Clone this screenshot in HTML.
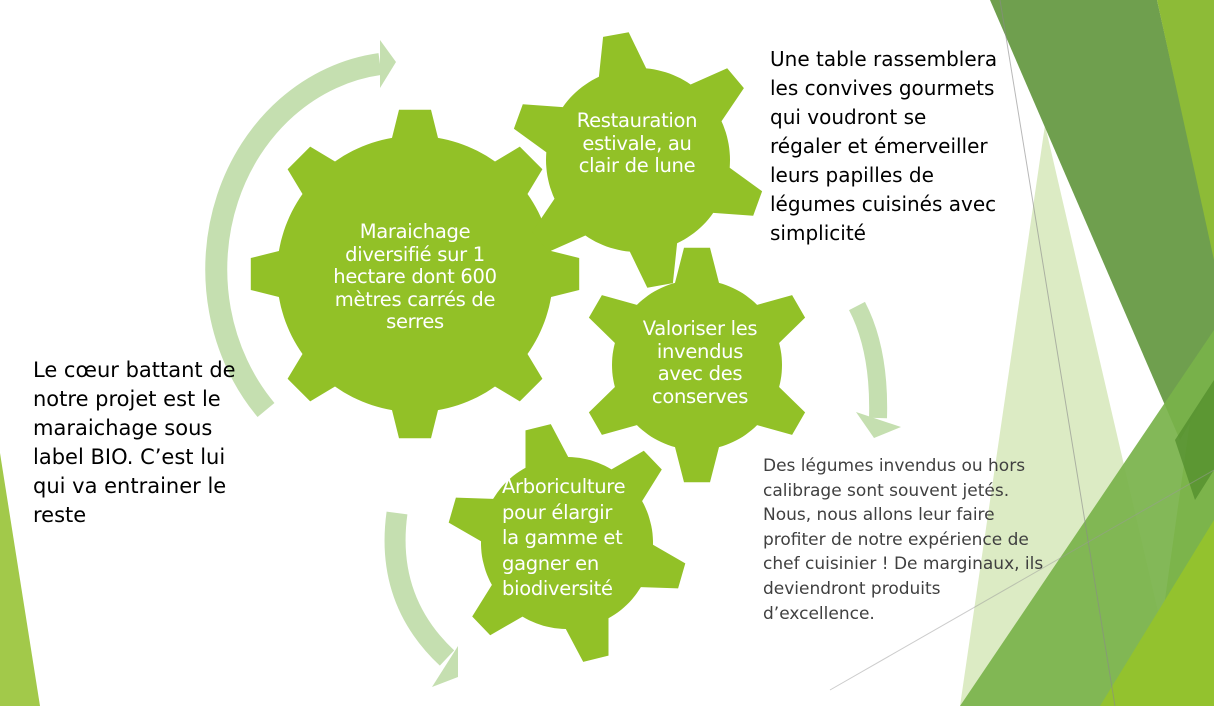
<!DOCTYPE html>
<html><head><meta charset="utf-8">
<style>
html,body{margin:0;padding:0;background:#fff;}
#c{position:relative;width:1214px;height:706px;overflow:hidden;font-family:"DejaVu Sans","Liberation Sans",sans-serif;}
svg{position:absolute;left:0;top:0;}
.t{position:absolute;white-space:nowrap;}
.g{color:#fff;font-size:19.5px;line-height:22.5px;text-align:center;letter-spacing:-0.3px;}
</style></head><body>
<div id="c">
<svg width="1214" height="706" viewBox="0 0 1214 706">
  <polygon points="0,453 0,706 40,706" fill="#a2c94a"/>
  <polygon points="1045,125 1180,706 960,706" fill="#dcebc4"/>
  <polygon points="1214,250 1214,706 1150,706" fill="#a6cd5a"/>
  <polygon points="990,0 1157,0 1214,255 1214,380 1180,440" fill="#6f9f4e"/>
  <polygon points="1157,0 1214,0 1214,260" fill="#8dbb37"/>
  <polygon points="960,706 1214,330 1214,706" fill="#78b24a" opacity="0.92"/>
  <polygon points="1214,380 1175,440 1195,500 1214,470" fill="#4f8a2a" opacity="0.7"/>
  <polygon points="1100,706 1214,520 1214,706" fill="#93c22e"/>
  <line x1="1000" y1="0" x2="1115" y2="706" stroke="#8a8a8a" stroke-width="1" opacity="0.6"/>
  <line x1="830" y1="690" x2="1214" y2="470" stroke="#9a9a9a" stroke-width="1" opacity="0.5"/>
  <path d="M266 410 A187 207 0 0 1 380 64" fill="none" stroke="#c5dfb0" stroke-width="22"/>
  <polygon points="380,40 396,62 380,88" fill="#c5dfb0"/>
  <path d="M857 306 Q880 350 878 418" fill="none" stroke="#c5dfb0" stroke-width="18"/>
  <polygon points="856,412 901,427 874,438" fill="#c5dfb0"/>
  <path d="M397 513 Q385 600 447 658" fill="none" stroke="#c5dfb0" stroke-width="21"/>
  <polygon points="458,646 458,677 432,687" fill="#c5dfb0"/>
  <g id="gears" fill="#92c127"></g>
</svg>
<div class="t g" style="left:305px;top:221px;width:220px;">Maraichage<br>diversifié sur 1<br>hectare dont 600<br>mètres carrés de<br>serres</div>
<div class="t g" style="left:537px;top:110px;width:200px;">Restauration<br>estivale, au<br>clair de lune</div>
<div class="t g" style="left:600px;top:318px;width:200px;">Valoriser les<br>invendus<br>avec des<br>conserves</div>
<div class="t g" style="left:502px;top:474px;text-align:left;line-height:25.5px;">Arboriculture<br>pour élargir<br>la gamme et<br>gagner en<br>biodiversité</div>
<div class="t" style="left:770px;top:45px;font-size:20px;line-height:29px;color:#000;">Une table rassemblera<br>les convives gourmets<br>qui voudront se<br>régaler et émerveiller<br>leurs papilles de<br>légumes cuisinés avec<br>simplicité</div>
<div class="t" style="left:763px;top:454px;font-size:17px;line-height:24.6px;color:#404040;">Des légumes invendus ou hors<br>calibrage sont souvent jetés.<br>Nous, nous allons leur faire<br>profiter de notre expérience de<br>chef cuisinier ! De marginaux, ils<br>deviendront produits<br>d’excellence.</div>
<div class="t" style="left:33px;top:356px;font-size:21px;line-height:29px;color:#000;">Le cœur battant de<br>notre projet est le<br>maraichage sous<br>label BIO. C’est lui<br>qui va entrainer le<br>reste</div>
</div>
<script>
function gear(cx,cy,R,Rt,n,a0,wb,wt){
  var pts=[],step=360/n;
  for(var k=0;k<n;k++){
    var a=(a0+k*step)*Math.PI/180;
    var db=Math.asin(wb/R),dt=Math.asin(wt/Rt);
    var seg=[[a-db,R],[a-dt,Rt],[a+dt,Rt],[a+db,R]];
    seg.forEach(function(p){pts.push((cx+p[1]*Math.cos(p[0])).toFixed(1)+','+(cy+p[1]*Math.sin(p[0])).toFixed(1));});
    var na=(a0+(k+1)*step)*Math.PI/180;
    var s=a+db,e=na-db;
    for(var j=1;j<12;j++){var t=s+(e-s)*j/12;pts.push((cx+R*Math.cos(t)).toFixed(1)+','+(cy+R*Math.sin(t)).toFixed(1));}
  }
  return '<polygon points="'+pts.join(' ')+'"/>';
}
var g=document.getElementById('gears');
g.innerHTML=gear(415,274,138,165,8,-90,23,16)+
 gear(638,160,92,128,6,-100,24,13)+
 gear(697,365,85,118,6,-90,22,13)+
 gear(567,543,86,120,6,-104,22,13);
</script>
</body></html>
